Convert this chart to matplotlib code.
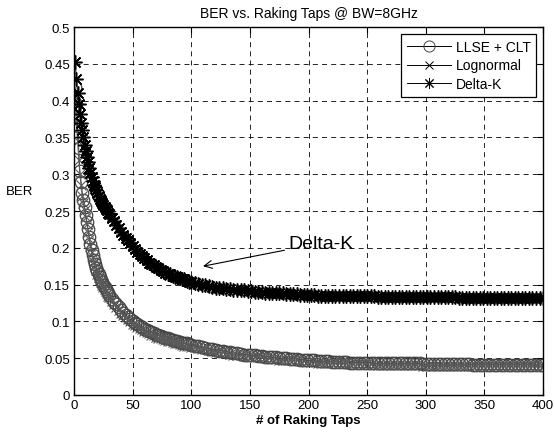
import numpy as np
import matplotlib
matplotlib.use("Agg")
import matplotlib.pyplot as plt

plt.rcParams['font.family'] = ['Liberation Sans', 'DejaVu Sans']

# tap positions where values were read
taps = [1, 2, 3, 4, 5, 6, 7, 8, 9, 10, 11, 12, 13, 14, 15, 16, 17, 18, 19, 20,
        21, 22, 23, 24, 25, 26, 27, 28, 29, 30,
        32, 34, 36, 38, 40, 42, 44, 46, 48, 50, 52, 54, 56, 58, 60, 62, 64, 66,
        68, 70, 72, 74, 76, 78, 80, 82, 84, 86, 88, 90, 92, 94, 96, 98, 100,
        103, 106, 109, 112, 115, 118, 121, 124, 127, 130, 133, 136, 139, 142, 145, 148,
        151, 154, 157, 160, 163, 166, 169, 172, 175, 178, 181, 184, 187, 190, 193, 196, 199,
        202, 205, 208, 211, 214, 217, 220, 223, 226, 229, 232, 235, 238, 241, 244, 247, 250,
        253, 256, 259, 262, 265, 268, 271, 274, 277, 280, 283, 286, 289, 292, 295, 298, 301,
        304, 307, 310, 313, 316, 319, 322, 325, 328, 331, 334, 337, 340, 343, 346, 349, 352,
        355, 358, 361, 364, 367, 370, 373, 376, 379, 382, 385, 388, 391, 394, 397, 400]

llse_clt = [0.418, 0.395, 0.365, 0.335, 0.305, 0.290, 0.275, 0.265, 0.255, 0.245,
            0.235, 0.225, 0.215, 0.205, 0.197, 0.190, 0.184, 0.178, 0.173, 0.168,
            0.164, 0.160, 0.156, 0.153, 0.150, 0.147, 0.144, 0.141, 0.138, 0.136,
            0.131, 0.127, 0.123, 0.119, 0.115, 0.112, 0.109, 0.106, 0.103, 0.100,
            0.098, 0.096, 0.094, 0.092, 0.090, 0.088, 0.087, 0.085, 0.084, 0.082,
            0.081, 0.080, 0.079, 0.078, 0.077, 0.076, 0.075, 0.074, 0.073, 0.072,
            0.071, 0.070, 0.070, 0.069, 0.068,
            0.067, 0.066, 0.065, 0.064, 0.063, 0.062, 0.061, 0.060, 0.060, 0.059,
            0.058, 0.057, 0.057, 0.056, 0.055, 0.055,
            0.054, 0.054, 0.053, 0.053, 0.052, 0.052, 0.051, 0.051, 0.050, 0.050,
            0.050, 0.049, 0.049, 0.049, 0.048, 0.048, 0.047,
            0.047, 0.047, 0.046, 0.046, 0.046, 0.046, 0.045, 0.045, 0.045, 0.045,
            0.045, 0.044, 0.044, 0.044, 0.044, 0.044, 0.044,
            0.044, 0.043, 0.043, 0.043, 0.043, 0.043, 0.043, 0.043, 0.043, 0.043,
            0.043, 0.043, 0.043, 0.043, 0.043, 0.042, 0.042,
            0.042, 0.042, 0.042, 0.042, 0.042, 0.042, 0.042, 0.042, 0.042, 0.042,
            0.042, 0.042, 0.041, 0.041, 0.041, 0.041, 0.041,
            0.041, 0.041, 0.041, 0.041, 0.041, 0.041, 0.041, 0.041, 0.041, 0.041,
            0.041, 0.041, 0.041, 0.041, 0.041, 0.041]

lognormal = [0.400, 0.370, 0.345, 0.320, 0.300, 0.285, 0.271, 0.261, 0.251, 0.242,
             0.232, 0.222, 0.212, 0.202, 0.194, 0.187, 0.181, 0.175, 0.170, 0.165,
             0.161, 0.157, 0.153, 0.150, 0.147, 0.144, 0.141, 0.138, 0.135, 0.133,
             0.128, 0.124, 0.120, 0.116, 0.112, 0.109, 0.106, 0.103, 0.100, 0.097,
             0.095, 0.093, 0.091, 0.089, 0.087, 0.085, 0.084, 0.082, 0.081, 0.079,
             0.078, 0.077, 0.076, 0.075, 0.074, 0.073, 0.072, 0.071, 0.070, 0.069,
             0.068, 0.067, 0.067, 0.066, 0.065,
             0.065, 0.064, 0.063, 0.062, 0.061, 0.060, 0.059, 0.058, 0.058, 0.057,
             0.056, 0.055, 0.055, 0.054, 0.053, 0.053,
             0.052, 0.052, 0.051, 0.051, 0.050, 0.050, 0.049, 0.049, 0.048, 0.048,
             0.048, 0.047, 0.047, 0.047, 0.046, 0.046, 0.045,
             0.045, 0.045, 0.044, 0.044, 0.044, 0.044, 0.043, 0.043, 0.043, 0.043,
             0.043, 0.042, 0.042, 0.042, 0.042, 0.042, 0.042,
             0.042, 0.041, 0.041, 0.041, 0.041, 0.041, 0.041, 0.041, 0.041, 0.041,
             0.041, 0.041, 0.041, 0.041, 0.041, 0.040, 0.040,
             0.040, 0.040, 0.040, 0.040, 0.040, 0.040, 0.040, 0.040, 0.040, 0.040,
             0.040, 0.040, 0.039, 0.039, 0.039, 0.039, 0.039,
             0.039, 0.039, 0.039, 0.039, 0.039, 0.039, 0.039, 0.039, 0.039, 0.039,
             0.039, 0.039, 0.039, 0.039, 0.039, 0.039]

delta_k = [0.452, 0.430, 0.410, 0.395, 0.382, 0.370, 0.360, 0.350, 0.340, 0.332,
           0.324, 0.316, 0.309, 0.302, 0.296, 0.291, 0.286, 0.282, 0.278, 0.274,
           0.270, 0.267, 0.264, 0.261, 0.258, 0.256, 0.253, 0.251, 0.248, 0.246,
           0.241, 0.236, 0.231, 0.227, 0.222, 0.218, 0.214, 0.210, 0.206, 0.202,
           0.198, 0.195, 0.192, 0.189, 0.186, 0.183, 0.180, 0.178, 0.176, 0.174,
           0.172, 0.170, 0.168, 0.166, 0.165, 0.164, 0.162, 0.161, 0.160, 0.159,
           0.158, 0.157, 0.155, 0.154, 0.153,
           0.152, 0.151, 0.150, 0.149, 0.148, 0.147, 0.146, 0.146, 0.145, 0.144,
           0.144, 0.143, 0.143, 0.142, 0.142, 0.141,
           0.141, 0.140, 0.140, 0.140, 0.139, 0.139, 0.139, 0.138, 0.138, 0.138,
           0.137, 0.137, 0.137, 0.137, 0.136, 0.136, 0.136,
           0.136, 0.136, 0.135, 0.135, 0.135, 0.135, 0.135, 0.135, 0.134, 0.134,
           0.134, 0.134, 0.134, 0.134, 0.134, 0.134, 0.134,
           0.134, 0.134, 0.133, 0.133, 0.133, 0.133, 0.133, 0.133, 0.133, 0.133,
           0.133, 0.133, 0.133, 0.133, 0.133, 0.133, 0.133,
           0.133, 0.133, 0.133, 0.133, 0.133, 0.133, 0.133, 0.133, 0.132, 0.132,
           0.132, 0.132, 0.132, 0.132, 0.132, 0.132, 0.132,
           0.132, 0.132, 0.132, 0.132, 0.132, 0.132, 0.132, 0.132, 0.132, 0.132,
           0.132, 0.132, 0.132, 0.132, 0.132, 0.132]

fig = plt.figure(figsize=(5.54, 4.39), dpi=100)
ax = fig.add_axes([0.1336, 0.098, 0.8466, 0.838])

ax.plot(taps, llse_clt, color='#3a3a3a', linewidth=0.7, marker='o', markersize=9,
        markerfacecolor='none', markeredgecolor='#444444', markeredgewidth=0.9,
        label='LLSE + CLT')
ax.plot(taps, lognormal, color='#5a5a5a', linewidth=0.7, marker='x', markersize=7,
        markeredgewidth=0.8, label='Lognormal')
ax.plot(taps, delta_k, color='black', linewidth=0.7, marker=(8, 2, 0), markersize=10,
        markeredgewidth=1.1, label='Delta-K')

ax.set_xlim(0, 400)
ax.set_ylim(0, 0.5)
ax.set_xticks(np.arange(0, 401, 50))
ax.set_yticks(np.arange(0, 0.501, 0.05))
ax.set_yticklabels(['0', '0.05', '0.1', '0.15', '0.2', '0.25', '0.3', '0.35',
                    '0.4', '0.45', '0.5'])
ax.tick_params(direction='in', labelsize=9.5, length=4, top=True, right=True, pad=3)
ax.grid(True, color='black', linestyle=(0, (6, 5)), linewidth=0.6)
for s in ax.spines.values():
    s.set_linewidth(1.0)

ax.set_title('BER vs. Raking Taps @ BW=8GHz', fontsize=10, pad=7)
ax.set_xlabel('# of Raking Taps', fontsize=9.5, fontweight='bold', labelpad=2)
ax.set_ylabel('BER', fontsize=9.5, rotation=0, va='center', ha='center')
ax.yaxis.set_label_coords(-0.116, 0.554)

ax.annotate('Delta-K', xy=(110, 0.175), xytext=(183, 0.2065), fontsize=14,
            va='center', ha='left',
            arrowprops=dict(arrowstyle='->', color='black', linewidth=0.8,
                            shrinkA=1, shrinkB=0))

leg = ax.legend(loc='upper right', fontsize=10, fancybox=False, framealpha=1,
                edgecolor='black', handlelength=3.2, handletextpad=0.3,
                labelspacing=0.35, borderpad=0.4, borderaxespad=0.5)
leg.get_frame().set_linewidth(0.9)
# smaller markers in the legend than in the dense bands
for h, ms in zip(leg.legend_handles, [8, 5.5, 8]):
    h.set_markersize(ms)
    h.set_markeredgewidth(0.7)
    h.set_color('black')

fig.savefig('out.png', dpi=100)
